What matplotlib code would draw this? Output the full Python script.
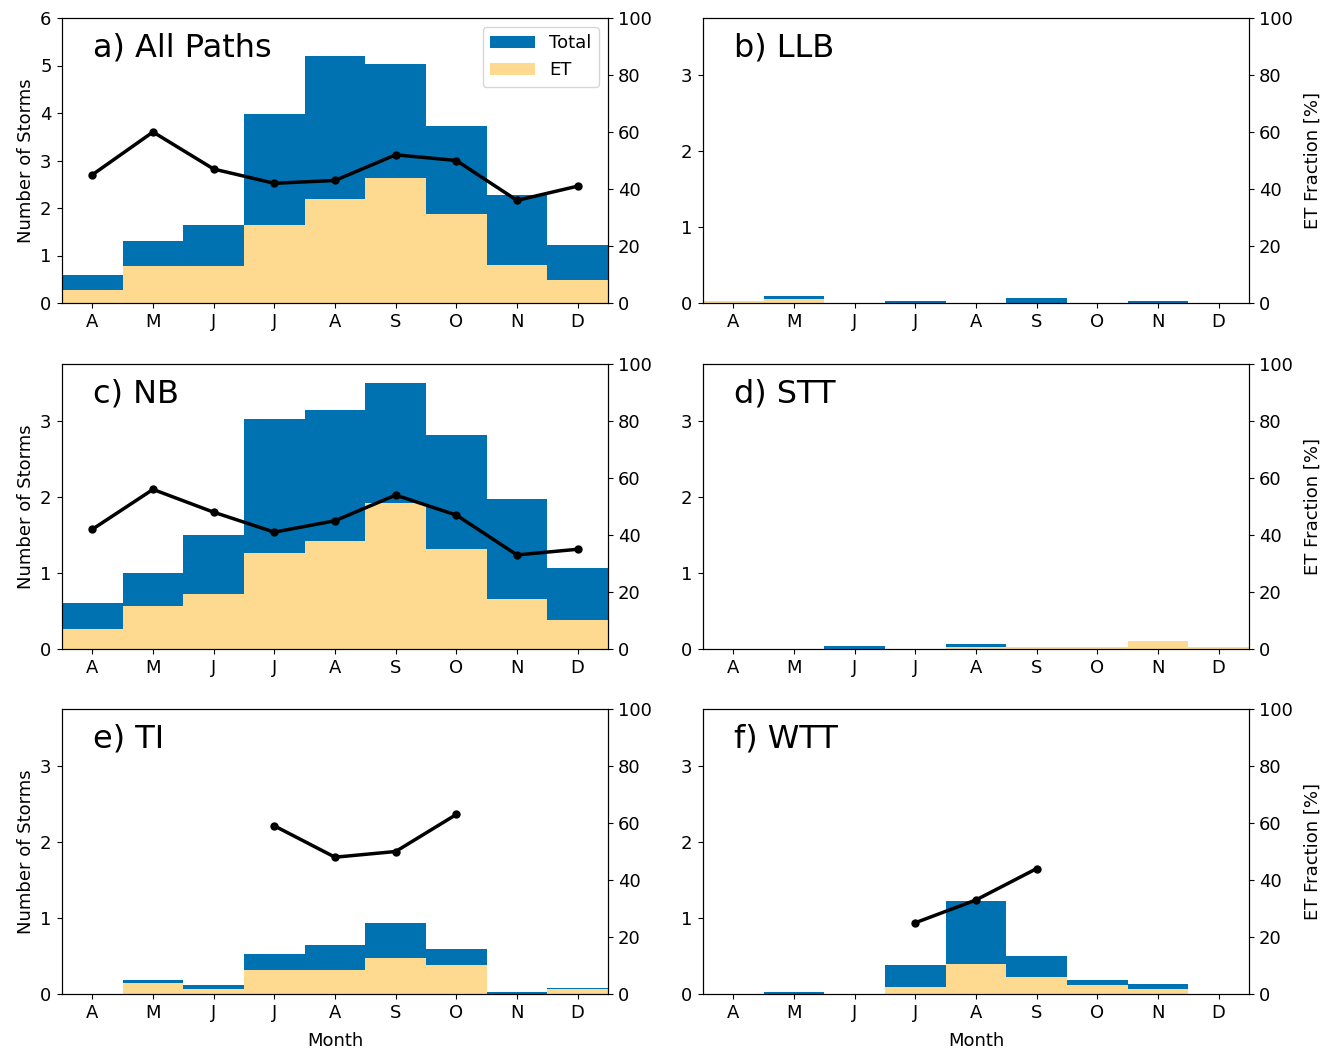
import matplotlib
matplotlib.use('Agg')
import matplotlib.pyplot as plt
import numpy as np

months = ['A', 'M', 'J', 'J', 'A', 'S', 'O', 'N', 'D']
nan = np.nan

# panel data: total storms, ET storms, ET fraction [%]
all_total = [0.60, 1.30, 1.65, 3.97, 5.20, 5.03, 3.72, 2.27, 1.22]
all_et = [0.27, 0.78, 0.78, 1.65, 2.20, 2.63, 1.87, 0.80, 0.49]
all_frac = [45, 60, 47, 42, 43, 52, 50, 36, 41]

llb_total = [0.02, 0.09, 0.0, 0.03, 0.0, 0.06, 0.0, 0.03, 0.0]
llb_et = [0.02, 0.05, 0.0, 0.0, 0.0, 0.0, 0.0, 0.0, 0.0]
llb_frac = [nan] * 9

nb_total = [0.60, 1.00, 1.50, 3.03, 3.15, 3.50, 2.82, 1.97, 1.06]
nb_et = [0.26, 0.56, 0.72, 1.26, 1.42, 1.92, 1.31, 0.66, 0.38]
nb_frac = [42, 56, 48, 41, 45, 54, 47, 33, 35]

stt_total = [0.0, 0.0, 0.04, 0.0, 0.06, 0.03, 0.03, 0.10, 0.03]
stt_et = [0.0, 0.0, 0.0, 0.0, 0.03, 0.03, 0.03, 0.10, 0.03]
stt_frac = [nan] * 9

ti_total = [0.0, 0.18, 0.12, 0.53, 0.65, 0.94, 0.59, 0.03, 0.08]
ti_et = [0.0, 0.15, 0.06, 0.31, 0.31, 0.47, 0.38, 0.0, 0.06]
ti_frac = [nan, nan, nan, 59, 48, 50, 63, nan, nan]

wtt_total = [0.0, 0.03, 0.0, 0.38, 1.22, 0.50, 0.18, 0.13, 0.0]
wtt_et = [0.0, 0.0, 0.0, 0.09, 0.40, 0.22, 0.12, 0.06, 0.0]
wtt_frac = [nan, nan, nan, 25, 33, 44, nan, nan, nan]

panels = [
    ('a) All Paths', all_total, all_et, all_frac),
    ('b) LLB', llb_total, llb_et, llb_frac),
    ('c) NB', nb_total, nb_et, nb_frac),
    ('d) STT', stt_total, stt_et, stt_frac),
    ('e) TI', ti_total, ti_et, ti_frac),
    ('f) WTT', wtt_total, wtt_et, wtt_frac),
]

blue = '#0072B2'
orange = '#FDDA90'

W, H = 1324, 1052
fig = plt.figure(figsize=(W / 100, H / 100), dpi=100)

lefts = [62, 703]
tops = [18, 364, 709]
aw, ah = 546, 285

x = np.arange(len(months))
for i, (label, total, et, frac) in enumerate(panels):
    row, col = divmod(i, 2)
    ax = fig.add_axes([lefts[col] / W, 1 - (tops[row] + ah) / H, aw / W, ah / H])
    ax.bar(x, total, width=1.0, color=blue, label='Total')
    ax.bar(x, et, width=1.0, color=orange, label='ET')
    ax.set_xlim(-0.5, 8.5)
    if i == 0:
        ax.set_ylim(0, 6)
        ax.set_yticks(range(7))
    else:
        ax.set_ylim(0, 3.75)
        ax.set_yticks(range(4))
    ax.set_xticks(x)
    ax.set_xticklabels(months)
    ax.tick_params(labelsize=13, pad=4)
    ax.text(0.057, 0.865, label, transform=ax.transAxes, fontsize=23, va='baseline')
    if col == 0:
        ax.set_ylabel('Number of Storms', fontsize=13, labelpad=4)
    if row == 2:
        ax.set_xlabel('Month', fontsize=13, labelpad=7)
    if i == 0:
        ax.legend(loc='upper right', fontsize=13, handlelength=2.5)

    ax2 = ax.twinx()
    ax2.plot(x, frac, color='black', lw=2.5, marker='o', ms=5)
    ax2.set_ylim(0, 100)
    ax2.set_yticks(range(0, 101, 20))
    ax2.tick_params(labelsize=13)
    if col == 1:
        ax2.set_ylabel('ET Fraction [%]', fontsize=13, labelpad=8)

plt.savefig('out.png', dpi=100)
